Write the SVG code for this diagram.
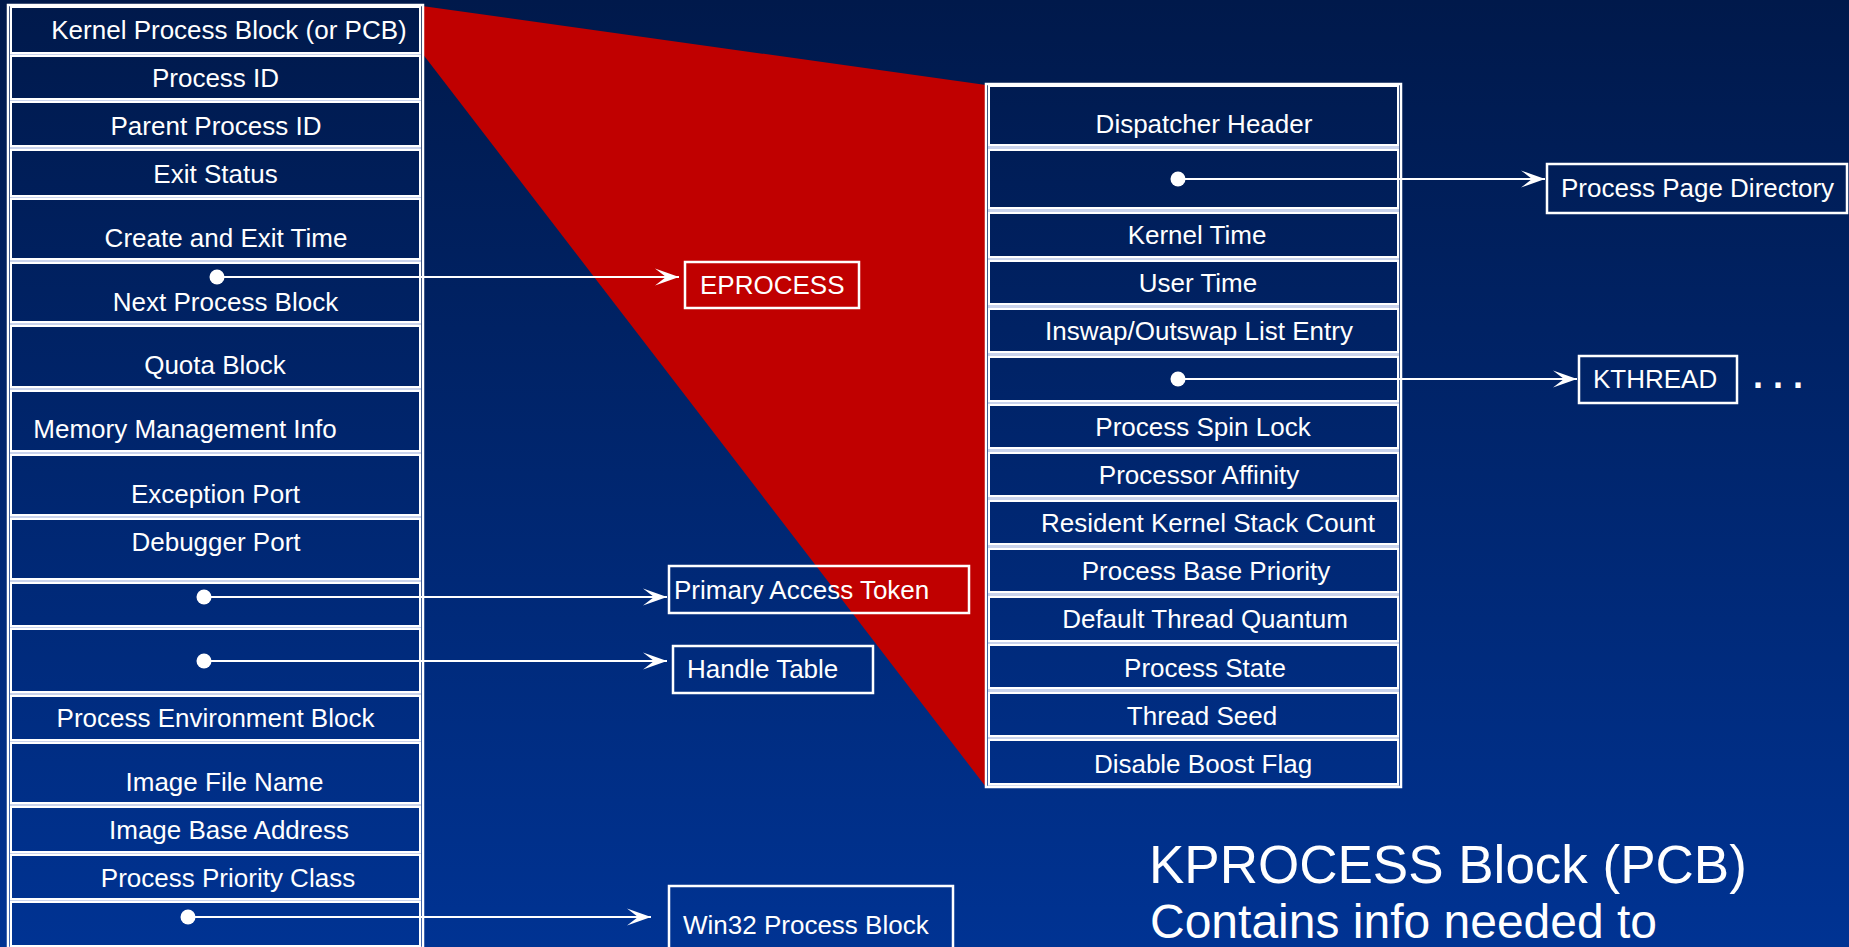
<svg xmlns="http://www.w3.org/2000/svg" width="1849" height="947" viewBox="0 0 1849 947">
  <defs>
    <linearGradient id="bg" gradientUnits="userSpaceOnUse" x1="0" y1="0" x2="0" y2="947">
      <stop offset="0" stop-color="#00194b"/>
      <stop offset="1" stop-color="#003393"/>
    </linearGradient>
    <marker id="arrow" markerUnits="userSpaceOnUse" viewBox="-25 -9 26 18" refX="0" refY="0" markerWidth="26" markerHeight="18" orient="auto">
      <path d="M0,0 L-24,-8.5 L-13,0 L-24,8.5 Z" fill="#ffffff"/>
    </marker>
    <style>
      .row { fill: url(#bg); stroke: #ffffff; stroke-width: 2; }
      .backing { fill: #c9d3ec; }
      .frame { fill: none; stroke: #ffffff; stroke-width: 2.5; }
      .box { fill: none; stroke: #ffffff; stroke-width: 2.5; }
      .t { font-family: "Liberation Sans", Arial, sans-serif; font-size: 26px; fill: #ffffff; }
      .c { text-anchor: middle; }
      .dot { fill: #ffffff; }
      .conn { stroke: #ffffff; stroke-width: 2; fill: none; marker-end: url(#arrow); }
      .title { font-family: "Liberation Sans", Arial, sans-serif; font-size: 53px; fill: #ffffff; }
      .sub { font-family: "Liberation Sans", Arial, sans-serif; font-size: 48px; fill: #ffffff; }
    </style>
  </defs>

  <!-- background -->
  <rect x="0" y="0" width="1849" height="947" fill="url(#bg)"/>

  <!-- red projection from the PCB entry to the KPROCESS block -->
  <polygon points="422,6 986,85 986,787 422,53" fill="#c00000"/>

  <!-- EPROCESS structure -->
  <g id="eprocess">
    <rect class="backing" x="10" y="6" width="411" height="945"/>
    <g id="e-kpcb"><rect class="row" x="11" y="7" width="409" height="46"/><text class="t c" x="229" y="39">Kernel Process Block (or PCB)</text></g>
    <g id="e-pid"><rect class="row" x="11" y="56" width="409" height="43"/><text class="t c" x="215.5" y="87">Process ID</text></g>
    <g id="e-ppid"><rect class="row" x="11" y="102" width="409" height="44"/><text class="t c" x="216" y="135">Parent Process ID</text></g>
    <g id="e-exit"><rect class="row" x="11" y="150" width="409" height="46"/><text class="t c" x="215.5" y="183">Exit Status</text></g>
    <g id="e-times"><rect class="row" x="11" y="199" width="409" height="60"/><text class="t c" x="226" y="247">Create and Exit Time</text></g>
    <g id="e-next"><rect class="row" x="11" y="263" width="409" height="59"/><text class="t c" x="225.5" y="311">Next Process Block</text></g>
    <g id="e-quota"><rect class="row" x="11" y="326" width="409" height="61"/><text class="t c" x="215" y="374">Quota Block</text></g>
    <g id="e-mm"><rect class="row" x="11" y="391" width="409" height="60"/><text class="t c" x="185" y="438">Memory Management Info</text></g>
    <g id="e-exc"><rect class="row" x="11" y="455" width="409" height="60"/><text class="t c" x="215.5" y="503">Exception Port</text></g>
    <g id="e-dbg"><rect class="row" x="11" y="519" width="409" height="60"/><text class="t c" x="216" y="551">Debugger Port</text></g>
    <g id="e-token"><rect class="row" x="11" y="583" width="409" height="43"/></g>
    <g id="e-handles"><rect class="row" x="11" y="629" width="409" height="63"/></g>
    <g id="e-peb"><rect class="row" x="11" y="696" width="409" height="44"/><text class="t c" x="215.5" y="727">Process Environment Block</text></g>
    <g id="e-imgname"><rect class="row" x="11" y="743" width="409" height="60"/><text class="t c" x="224.5" y="791">Image File Name</text></g>
    <g id="e-imgbase"><rect class="row" x="11" y="807" width="409" height="45"/><text class="t c" x="229" y="839">Image Base Address</text></g>
    <g id="e-prio"><rect class="row" x="11" y="855" width="409" height="44"/><text class="t c" x="228" y="887">Process Priority Class</text></g>
    <g id="e-win32"><rect class="row" x="11" y="902" width="409" height="44"/></g>
    <rect class="frame" x="8" y="5" width="415" height="943"/>
  </g>

  <!-- KPROCESS structure -->
  <g id="kprocess">
    <rect class="backing" x="988" y="85" width="411" height="701"/>
    <g id="k-disp"><rect class="row" x="989" y="86" width="409" height="59"/><text class="t c" x="1204" y="133">Dispatcher Header</text></g>
    <g id="k-pagedir"><rect class="row" x="989" y="150" width="409" height="58"/></g>
    <g id="k-ktime"><rect class="row" x="989" y="213" width="409" height="44"/><text class="t c" x="1197" y="244">Kernel Time</text></g>
    <g id="k-utime"><rect class="row" x="989" y="261" width="409" height="43"/><text class="t c" x="1198" y="292">User Time</text></g>
    <g id="k-swap"><rect class="row" x="989" y="309" width="409" height="43"/><text class="t c" x="1199" y="340">Inswap/Outswap List Entry</text></g>
    <g id="k-threads"><rect class="row" x="989" y="357" width="409" height="44"/></g>
    <g id="k-spin"><rect class="row" x="989" y="405" width="409" height="43"/><text class="t c" x="1203" y="436">Process Spin Lock</text></g>
    <g id="k-affinity"><rect class="row" x="989" y="453" width="409" height="43"/><text class="t c" x="1199" y="484">Processor Affinity</text></g>
    <g id="k-stack"><rect class="row" x="989" y="501" width="409" height="43"/><text class="t c" x="1208" y="532">Resident Kernel Stack Count</text></g>
    <g id="k-basepri"><rect class="row" x="989" y="549" width="409" height="43"/><text class="t c" x="1206" y="580">Process Base Priority</text></g>
    <g id="k-quantum"><rect class="row" x="989" y="597" width="409" height="44"/><text class="t c" x="1205" y="628">Default Thread Quantum</text></g>
    <g id="k-state"><rect class="row" x="989" y="645" width="409" height="43"/><text class="t c" x="1205" y="677">Process State</text></g>
    <g id="k-seed"><rect class="row" x="989" y="693" width="409" height="43"/><text class="t c" x="1202" y="725">Thread Seed</text></g>
    <g id="k-boost"><rect class="row" x="989" y="740" width="409" height="44"/><text class="t c" x="1203" y="773">Disable Boost Flag</text></g>
    <rect class="frame" x="986" y="84" width="415" height="703"/>
  </g>

  <!-- referenced objects -->
  <g id="n-eprocess"><rect class="box" x="685" y="262" width="174" height="46"/><text class="t" x="700" y="294">EPROCESS</text></g>
  <g id="n-token"><rect class="box" x="669" y="566" width="300" height="47"/><text class="t" x="674" y="599">Primary Access Token</text></g>
  <g id="n-handles"><rect class="box" x="673" y="646" width="200" height="47"/><text class="t" x="687" y="678">Handle Table</text></g>
  <g id="n-win32"><rect class="box" x="669" y="886" width="284" height="70"/><text class="t" x="683" y="934">Win32 Process Block</text></g>
  <g id="n-pagedir"><rect class="box" x="1547" y="164" width="300" height="49"/><text class="t" x="1561" y="197">Process Page Directory</text></g>
  <g id="n-kthread"><rect class="box" x="1579" y="356" width="158" height="47"/><text class="t" x="1593" y="388">KTHREAD</text><text class="t" x="1753" y="388" style="font-size:36px;font-weight:bold">. . .</text></g>

  <!-- pointer connectors -->
  <g id="connectors">
    <line class="conn" x1="217" y1="277" x2="679" y2="277"/>
    <line class="conn" x1="204" y1="597" x2="667" y2="597"/>
    <line class="conn" x1="204" y1="661" x2="667" y2="661"/>
    <line class="conn" x1="188" y1="917" x2="651" y2="917"/>
    <line class="conn" x1="1178" y1="179" x2="1545" y2="179"/>
    <line class="conn" x1="1178" y1="379" x2="1577" y2="379"/>
    <circle class="dot" cx="217" cy="277" r="7.5"/>
    <circle class="dot" cx="204" cy="597" r="7.5"/>
    <circle class="dot" cx="204" cy="661" r="7.5"/>
    <circle class="dot" cx="188" cy="917" r="7.5"/>
    <circle class="dot" cx="1178" cy="179" r="7.5"/>
    <circle class="dot" cx="1178" cy="379" r="7.5"/>
  </g>

  <!-- caption -->
  <g id="caption">
    <text class="title" x="1149" y="883">KPROCESS Block (PCB)</text>
    <text class="sub" x="1150" y="938">Contains info needed to</text>
  </g>
</svg>
